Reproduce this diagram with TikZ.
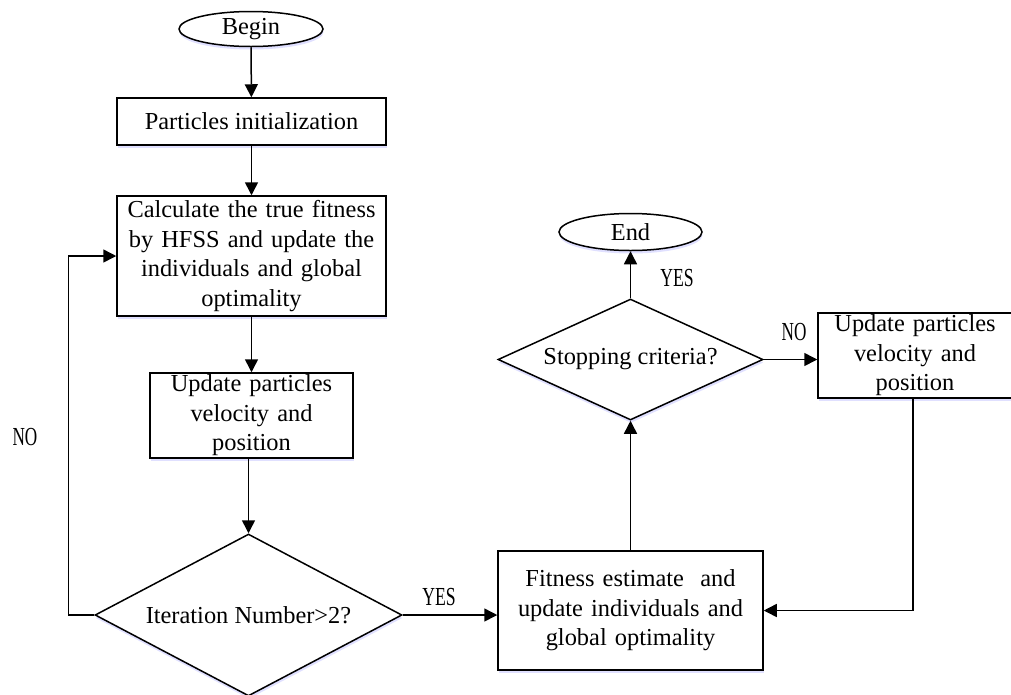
\documentclass[tikz,border=0pt]{standalone}
\usepackage{fontspec}
\setmainfont{Liberation Serif}
\usetikzlibrary{shapes.geometric,arrows.meta,shadows}
\begin{document}
\begin{tikzpicture}[x=1pt,y=-1pt,line width=1.5pt,
  shade/.style={drop shadow={shadow xshift=0.5pt,shadow yshift=-3pt,fill=blue!12!white,opacity=1}},
  base/.style={draw=black,fill=white,font=\fontsize{24.4}{29.5}\selectfont,inner sep=0pt,align=center,shade},
  term/.style={base,ellipse},
  proc/.style={base,rectangle},
  dec/.style={base,diamond,aspect=1.9},
  lbl/.style={font=\fontsize{26}{26}\selectfont,inner sep=0pt},
  arr/.style={-{Triangle[length=13pt,width=13pt]},line join=miter}]
\useasboundingbox (0,0) rectangle (1011,694);
\node[term,minimum width=144pt,minimum height=35pt] (begin) at (251,29) {Begin};
\node[proc,minimum width=269pt,minimum height=47pt] (init) at (251.5,121.5) {Particles initialization};
\node[proc,minimum width=269pt,minimum height=120pt,text width=262pt] (calc) at (251.5,256)
  {Calculate the true fitness\\by HFSS and update the\\individuals and global\\optimality};
\node[proc,minimum width=203pt,minimum height=85pt,text width=200pt] (upd1) at (251.5,415.5)
  {Update particles\\velocity and\\position};
\node[dec,minimum width=307pt,minimum height=162pt] (iter) at (248.5,615) {Iteration Number>2?};
\node[proc,minimum width=265pt,minimum height=119pt,text width=260pt] (fit) at (630.5,610.5)
  {Fitness estimate\ \ and\\update individuals and\\global optimality};
\node[dec,aspect=2.2,minimum width=265pt,minimum height=121pt] (stop) at (630.5,359.5) {Stopping criteria?};
\node[term,minimum width=143pt,minimum height=37pt] (end) at (630.5,232) {End};
\node[proc,minimum width=194pt,minimum height=85pt,text width=190pt] (upd2) at (915,355.5)
  {Update particles\\velocity and\\position};
\node[lbl] (no1) at (25,437) {\scalebox{0.66}[1]{NO}};
\node[lbl] (yes1) at (439,597) {\scalebox{0.68}[1]{YES}};
\node[lbl] (yes2) at (677,278) {\scalebox{0.68}[1]{YES}};
\node[lbl] (no2) at (794,332) {\scalebox{0.66}[1]{NO}};
\draw[arr] (begin) -- (init);
\draw[arr] (init) -- (calc);
\draw[arr] (calc) -- (upd1);
\draw[arr] (iter.north |- upd1.south) -- (iter.north);
\draw[arr] (iter.west) -- ++(-26,0) |- (calc.west);
\draw[arr] (iter.east) -- (iter.east -| fit.west);
\draw[arr] (fit.north) -- (stop.south);
\draw[arr] (stop.north) -- (end.south);
\draw[arr] (stop.east) -- (stop.east -| upd2.west);
\draw[arr] ([xshift=-2pt]upd2.south) |- (fit.east);
\end{tikzpicture}
\end{document}
